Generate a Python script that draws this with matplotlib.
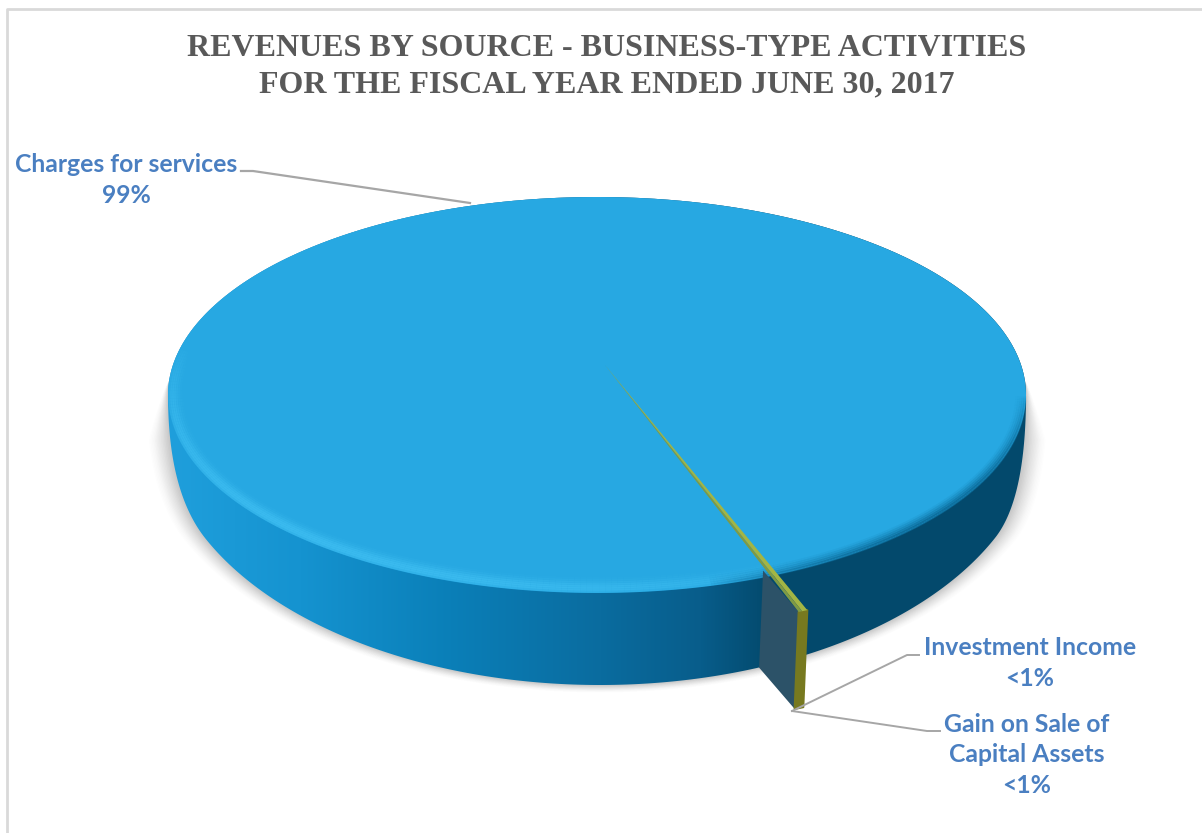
import numpy as np
import matplotlib
matplotlib.use("Agg")
import matplotlib.pyplot as plt
from matplotlib.collections import LineCollection
from matplotlib.colors import to_rgb
from matplotlib.patches import Polygon

title_lines = ["REVENUES BY SOURCE - BUSINESS-TYPE ACTIVITIES",
               "FOR THE FISCAL YEAR ENDED JUNE 30, 2017"]
categories = ["Charges for services", "Investment Income", "Gain on Sale of\nCapital Assets"]
shares = [99.7, 0.18, 0.12]
share_labels = ["99%", "<1%", "<1%"]

W, H = 1202, 833
CX, CY = 597, 395      # centre of the top ellipse
RX, RY = 429, 198
APEX_X, APEX_Y = 605, 365   # where the slices meet, shifted by perspective
START = 65.6           # screen angle of the sliver, degrees clockwise from east
EXPLODE = 1.17
WALL_DX, WALL_DY = -4, 97

def rim(t, inset=0):
    # point on the top ellipse, t in degrees clockwise from east
    t = np.radians(t)
    return CX + (RX - inset) * np.cos(t), CY + (RY - inset) * np.sin(t)

def pulled(x, y, k=EXPLODE):
    return APEX_X + (x - APEX_X) * k, APEX_Y + (y - APEX_Y) * k

def bezier(p0, p1, p2, n=40):
    u = np.linspace(0, 1, n)[:, None]
    return (1 - u) ** 2 * np.array(p0) + 2 * u * (1 - u) * np.array(p1) + u ** 2 * np.array(p2)

def silhouette():
    # outline of the pie: the lower edge narrows with perspective, the sides round into it
    t0 = np.degrees(np.arccos(395 / 435))
    t = np.radians(np.linspace(t0, 180 - t0, 240))
    low = np.column_stack([600 + 435 * np.cos(t), 432 + 253 * np.sin(t)])
    ux, uy = rim(np.linspace(180, 360, 200))
    upper = np.column_stack([ux, uy])
    left = bezier(low[-1], (168, 491), upper[0])
    right = bezier(upper[-1], (1026, 499), low[0])
    return np.vstack([low, left, upper, right])

fig = plt.figure(figsize=(W / 100, H / 100), dpi=100)
ax = fig.add_axes([0, 0, 1, 1])
ax.set_xlim(0, W)
ax.set_ylim(H, 0)
ax.axis("off")

# chart frame, only the left and top edges fall inside the canvas
ax.plot([7, 7, W], [H, 9, 9], color="#d9d9d9", lw=2, zorder=0)

# soft shadow around the lower edge, none along the back of the pie
shape = silhouette()
ramp = np.clip((shape[:, 1] - 380) / 60, 0, 1)
for grow, alpha in zip(np.linspace(1.05, 1.004, 14), np.linspace(0.008, 0.04, 14)):
    sx = 600 + (shape[:, 0] - 600) * (1 + (grow - 1) * ramp)
    sy = 432 + (shape[:, 1] - 432) * (1 + (grow - 1) * 0.6 * ramp)
    ax.fill(sx, sy, color="#555555", alpha=alpha, lw=0, zorder=1)

# side wall, shaded from left to right
xs = np.arange(W)
stop_x = [168, 300, 450, 600, 700, 770, 1026]
stop_c = ["#1f9fdc", "#1593d0", "#0a7fb8", "#0a6c9f", "#085d8b", "#03496c", "#03496c"]
stop_rgb = np.array([to_rgb(c) for c in stop_c])
wall_img = np.stack([np.interp(xs, stop_x, stop_rgb[:, i]) for i in range(3)], axis=-1)[None, :, :]
im = ax.imshow(wall_img, extent=(0, W, H, 0), aspect="auto", zorder=2)
wall_clip = Polygon(shape, closed=True, transform=ax.transData, fc="none", ec="none")
ax.add_patch(wall_clip)
im.set_clip_path(wall_clip)
ax.set_xlim(0, W)
ax.set_ylim(H, 0)

# top face
bx, by = rim(np.linspace(0, 360, 500))
ax.fill(bx, by, color="#27a8e2", lw=0, zorder=3)

# bevel along the rim: light on the left, dark on the right, each fading at its ends
def bevel(t_from, t_to, colour, insets, alphas):
    t = np.linspace(t_from, t_to, 160)
    fade = np.sin(np.linspace(0, np.pi, len(t) - 1)) ** 0.7
    rgb = to_rgb(colour)
    for inset, alpha in zip(insets, alphas):
        x, y = rim(t, inset)
        pts = np.column_stack([x, y])
        segs = np.stack([pts[:-1], pts[1:]], axis=1)
        cols = [(*rgb, alpha * f) for f in fade]
        ax.add_collection(LineCollection(segs, colors=cols, linewidths=2.4, zorder=4))

bevel(60, 195, "#3dbdf1", np.arange(2, 15, 2), [0.55, 0.7, 0.7, 0.55, 0.35, 0.2, 0.1])
bevel(0, 75, "#0b6a98", np.arange(1, 10, 2), [0.8, 0.55, 0.35, 0.2, 0.1])

# the two small slices, pulled out of the pie and sized from their shares
total = sum(shares)
sweep1 = shares[1] / total * 360
sweep2 = shares[2] / total * 360
t_in, t_mid, t_out = START + (sweep1 + sweep2) / 2, START + (sweep1 - sweep2) / 2, START - (sweep1 + sweep2) / 2
ex1, ey1 = pulled(*rim(t_in))
emx, emy = pulled(*rim(t_mid))
ex0, ey0 = pulled(*rim(t_out))
fx, fy = pulled(*rim(t_in), k=0.955)

# dark cut face from the pie wall out to the slice edge
ax.add_patch(Polygon([(fx, fy + 4), (ex1, ey1), (ex1 + WALL_DX, ey1 + WALL_DY), (fx + WALL_DX, fy + 4 + WALL_DY)],
                     closed=True, fc="#2c5268", ec="none", zorder=5))
# olive outer wall of the slices
ax.add_patch(Polygon([(ex1, ey1), (ex0, ey0), (ex0 + WALL_DX, ey0 + WALL_DY), (ex1 + WALL_DX, ey1 + WALL_DY)],
                     closed=True, fc="#77791f", ec="#77791f", lw=1.5, joinstyle="round", zorder=6))
# thin slices on the top face
ax.add_patch(Polygon([(APEX_X, APEX_Y), (ex0, ey0), (emx, emy)], closed=True,
                     fc="#a3b544", ec="none", zorder=7))
ax.add_patch(Polygon([(APEX_X, APEX_Y), (emx, emy), (ex1, ey1)], closed=True,
                     fc="#7f9a45", ec="none", zorder=7))

# leader lines
LINE = "#a6a6a6"
ax.plot([241, 253, 470], [171, 171, 203], color=LINE, lw=1.6, zorder=8)
ax.plot([792, 907, 919], [711, 655, 655], color=LINE, lw=1.4, zorder=8)
ax.plot([792, 927, 940], [711, 731, 731], color=LINE, lw=1.4, zorder=8)

# title
for y, line in zip([48, 85], title_lines):
    ax.text(607, y, line, ha="center", va="center", family="Liberation Serif",
            fontweight="bold", fontsize=23, color="#595959")

# data labels
label_kw = dict(ha="center", va="center", family="Lato", fontweight="bold",
                fontsize=17.8, color="#4a7fc1", linespacing=1.42, zorder=9)
ax.text(126, 180, categories[0] + "\n" + share_labels[0], **label_kw)
ax.text(1030, 663, categories[1] + "\n" + share_labels[1], **label_kw)
ax.text(1027, 755, categories[2] + "\n" + share_labels[2], **label_kw)

fig.savefig("out.png", dpi=100)
